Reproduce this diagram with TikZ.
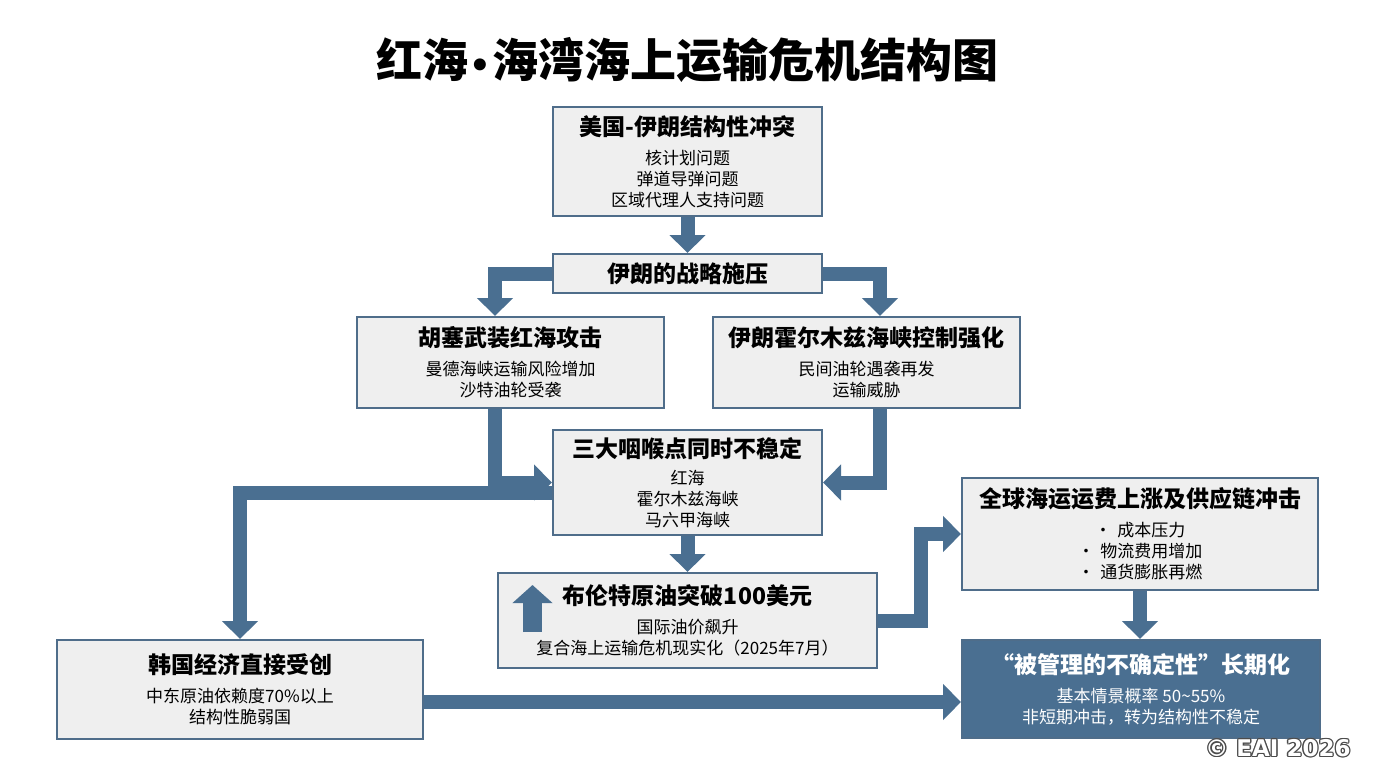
\documentclass[tikz,border=0pt]{standalone}
\usepackage{fontspec}
\setmainfont{Noto Sans CJK SC}
\newfontfamily\markfont{DejaVu Sans}
\usetikzlibrary{arrows.meta}
\definecolor{steel}{HTML}{4A6F91}
\definecolor{frame}{HTML}{4F6D8A}
\definecolor{boxgray}{HTML}{EFEFEF}
\tikzset{>={Triangle[width=35pt,length=18pt]}}
\newcommand{\ttl}[1]{{\fontsize{23}{27}\selectfont\bfseries #1}}

\begin{document}
\begin{tikzpicture}[x=1pt,y=-1pt,
    box/.style={draw=frame,line width=2pt,fill=boxgray,align=center,inner sep=0pt,
      font=\fontsize{17}{21}\selectfont},
    blk/.style={->,draw=steel,line width=14pt,line join=miter}]
    \useasboundingbox (0,0) rectangle (1376,768);

    % Title
    \node[font=\fontsize{46}{50}\selectfont\bfseries] (title) at (687.5,60)
        {红海\hspace{1pt}{\markfont\fontsize{34}{34}\selectfont •}\hspace{1pt}海湾海上运输危机结构图};

    % Boxes
    \node[box,minimum width=269pt,minimum height=109pt] (usiran) at (687.5,161.5)
        {\ttl{美国-伊朗结构性冲突}\\[8pt] 核计划问题\\ 弹道导弹问题\\ 区域代理人支持问题};
    \node[box,minimum width=269pt,minimum height=39pt] (pressure) at (687.5,273.5) {\ttl{伊朗的战略施压}};
    \node[box,minimum width=307pt,minimum height=91pt] (houthi) at (510.5,362.5)
        {\ttl{胡塞武装红海攻击}\\[8pt] 曼德海峡运输风险增加\\ 沙特油轮受袭};
    \node[box,minimum width=307pt,minimum height=91pt] (hormuz) at (866.5,362.5)
        {\ttl{伊朗霍尔木兹海峡控制强化}\\[8pt] 民间油轮遇袭再发\\ 运输威胁};
    \node[box,minimum width=269pt,minimum height=105pt] (choke) at (687.5,482.5)
        {\ttl{三大咽喉点同时不稳定}\\[6pt] 红海\\ 霍尔木兹海峡\\ 马六甲海峡};
    \node[box,minimum width=379pt,minimum height=95pt] (brent) at (687.5,620.5)
        {\ttl{布伦特原油突破100美元}\\[8pt] 国际油价飙升\\ 复合海上运输危机现实化（2025年7月）};
    \node[box,minimum width=356pt,minimum height=112pt] (freight) at (1140,534)
        {\ttl{全球海运运费上涨及供应链冲击}\\[8pt] •\hspace{6pt}成本压力\\ •\hspace{6pt}物流费用增加\\ •\hspace{6pt}通货膨胀再燃};
    \node[box,fill=steel,text=white,minimum width=358pt,minimum height=98pt] (managed) at (1141,689)
        {\ttl{“被管理的不确定性”长期化}\\[8pt] 基本情景概率 50\textasciitilde55\%\\ 非短期冲击，转为结构性不稳定};
    \node[box,minimum width=366pt,minimum height=99pt] (korea) at (240,689.5)
        {\ttl{韩国经济直接受创}\\[8pt] 中东原油依赖度70\%以上\\ 结构性脆弱国};

    % Block arrows
    \draw[blk] (usiran.south) -- (pressure.north);
    \draw[blk] (pressure.west) -| ([xshift=-15.5pt]houthi.north);
    \draw[blk] (pressure.east) -| ([xshift=13.5pt]hormuz.north);
    \draw[blk] ([yshift=-10.5pt]choke.west) -| (korea.north);
    \draw[blk] ([xshift=-15.5pt]houthi.south) |- (choke.west);
    \draw[blk] ([xshift=13.5pt]hormuz.south) |- (choke.east);
    \draw[blk] (choke.south) -- (brent.north);
    \draw[blk] (brent.east) -- ++(43,0) |- (freight.west);
    \draw[blk] (freight.south) -- (freight.south |- managed.north);
    \draw[blk] ([yshift=-12.5pt]korea.east) -- ([yshift=-12.5pt]korea.east -| managed.west);
    \draw[->,draw=steel,line width=19pt,>={Triangle[width=39pt,length=18pt]}]
        ([xshift=-155pt,yshift=-11.5pt]brent.center) -- ([xshift=-155pt,yshift=35.5pt]brent.center);

    % Copyright mark
    \foreach \a in {0,45,...,315}
        \node[font=\markfont\bfseries\fontsize{23}{23}\selectfont,text=black!70] (cp\a)
            at ([shift={(\a:1.3)}]1278,748) {© EAI 2026};
    \node[font=\markfont\bfseries\fontsize{23}{23}\selectfont,text=white] (copyright) at (1278,748) {© EAI 2026};
\end{tikzpicture}
\end{document}
